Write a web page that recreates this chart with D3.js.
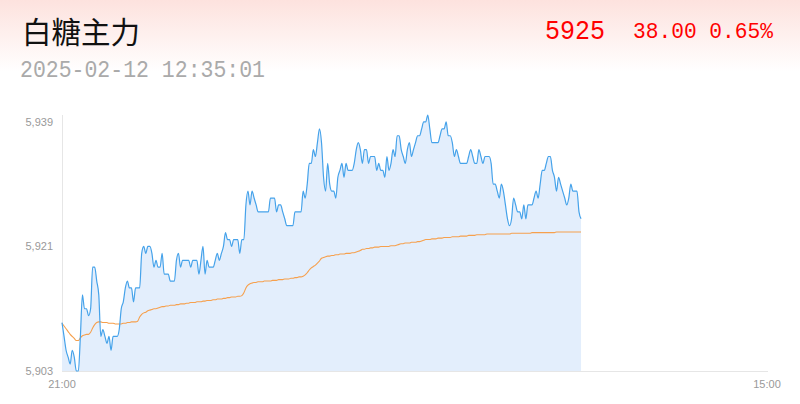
<!DOCTYPE html>
<html><head><meta charset="utf-8">
<script src="https://cdn.jsdelivr.net/npm/d3@7"></script>
<style>html,body{margin:0;padding:0;background:#fff;}svg{display:block;}</style>
</head><body>
<svg id="chart" width="800" height="404"></svg>
<script>
const title = "白糖主力";
const lastPrice = "5925";
const changeText = "38.00 0.65%";
const timeText = "2025-02-12 12:35:01";
const totalMinutes = 345;
const xTickLabels = ["21:00", "15:00"];
const yTicks = [5903, 5921, 5939];

const priceValues = [
5910,5908,5906,5905,5904,5906,5905,5903,5903,5908,
5914,5912,5912,5911,5912,5918,5918,5916,5914,5908,
5909,5908,5907,5908,5906,5908,5908,5908,5909,5912,
5913,5915,5916,5915,5915,5913,5915,5915,5915,5920,
5921,5920,5921,5921,5920,5918,5919,5918,5918,5920,
5917,5917,5917,5916,5916,5916,5919,5920,5918,5919,
5919,5919,5919,5918,5919,5919,5919,5917,5919,5921,
5917,5919,5918,5918,5918,5919,5920,5919,5920,5921,
5923,5922,5922,5921,5922,5922,5922,5920,5922,5922,
5927,5929,5927,5929,5928,5927,5926,5926,5926,5926,
5926,5926,5928,5928,5928,5926,5927,5927,5926,5925,
5924,5924,5924,5924,5926,5926,5926,5926,5929,5928,
5930,5933,5933,5935,5934,5936,5938,5936,5931,5929,
5933,5930,5929,5929,5928,5931,5932,5933,5931,5933,
5932,5932,5932,5933,5935,5936,5935,5933,5935,5935,
5933,5934,5934,5934,5932,5933,5932,5932,5931,5934,
5932,5933,5935,5934,5937,5937,5935,5934,5933,5935,
5936,5934,5935,5936,5937,5937,5938,5939,5939,5940,
5938,5936,5936,5936,5936,5937,5938,5938,5939,5937,
5937,5936,5934,5935,5934,5933,5933,5933,5933,5934,
5935,5934,5933,5933,5935,5934,5933,5934,5934,5934,
5933,5930,5930,5929,5928,5930,5929,5927,5925,5924,
5925,5928,5927,5926,5926,5925,5927,5925,5927,5927,
5927,5928,5929,5928,5930,5932,5932,5933,5934,5934,
5932,5931,5929,5931,5930,5929,5928,5927,5928,5930,
5929,5929,5929,5926,5925
];

const avgValues = [
5909.9,5909.5,5909.1,5908.7,5908.3,5908.0,5907.7,5907.4,5907.4,5907.8,
5908.1,5908.2,5908.3,5908.3,5908.6,5909.2,5909.7,5910.0,5910.1,5910.1,
5910.0,5910.0,5910.0,5909.9,5909.9,5909.9,5909.8,5909.8,5909.8,5909.8,
5909.9,5909.9,5910.0,5910.0,5910.1,5910.1,5910.1,5910.2,5910.8,5911.2,
5911.4,5911.5,5911.7,5911.8,5911.9,5912.0,5912.0,5912.1,5912.2,5912.3,
5912.3,5912.4,5912.4,5912.5,5912.5,5912.5,5912.6,5912.6,5912.7,5912.7,
5912.7,5912.8,5912.8,5912.9,5912.9,5912.9,5913.0,5913.0,5913.0,5913.1,
5913.1,5913.2,5913.2,5913.2,5913.3,5913.3,5913.4,5913.4,5913.4,5913.5,
5913.5,5913.6,5913.6,5913.7,5913.7,5913.7,5913.8,5913.8,5913.9,5914.3,
5915.0,5915.4,5915.6,5915.7,5915.8,5915.8,5915.9,5915.9,5915.9,5916.0,
5916.0,5916.0,5916.0,5916.1,5916.1,5916.1,5916.2,5916.2,5916.2,5916.3,
5916.3,5916.3,5916.4,5916.4,5916.5,5916.5,5916.6,5916.6,5916.7,5916.9,
5917.2,5917.6,5917.9,5918.1,5918.3,5918.6,5918.9,5919.3,5919.4,5919.5,
5919.6,5919.6,5919.7,5919.7,5919.8,5919.8,5919.9,5919.9,5919.9,5920.0,
5920.0,5920.0,5920.1,5920.1,5920.2,5920.3,5920.4,5920.6,5920.6,5920.7,
5920.7,5920.8,5920.8,5920.9,5920.9,5920.9,5921.0,5921.0,5921.0,5921.0,
5921.0,5921.1,5921.1,5921.1,5921.2,5921.3,5921.4,5921.4,5921.5,5921.5,
5921.5,5921.6,5921.6,5921.6,5921.7,5921.7,5921.8,5921.9,5922.0,5922.0,
5922.0,5922.1,5922.1,5922.1,5922.2,5922.2,5922.2,5922.3,5922.3,5922.3,
5922.3,5922.4,5922.4,5922.4,5922.4,5922.5,5922.5,5922.5,5922.5,5922.6,
5922.6,5922.6,5922.6,5922.7,5922.7,5922.7,5922.7,5922.7,5922.8,5922.8,
5922.8,5922.8,5922.8,5922.8,5922.8,5922.8,5922.8,5922.8,5922.8,5922.8,
5922.9,5922.9,5922.9,5922.9,5922.9,5922.9,5922.9,5922.9,5922.9,5922.9,
5923.0,5923.0,5923.0,5923.0,5923.0,5923.0,5923.0,5923.0,5923.0,5923.0,
5923.0,5923.0,5923.1,5923.1,5923.1,5923.1,5923.1,5923.1,5923.1,5923.1,
5923.1,5923.1,5923.1,5923.1,5923.1
];

const svg = d3.select("#chart");
const W = 800, H = 404;
const plot = {left: 62, right: 767, top: 115, bottom: 371};

// header gradient
const defs = svg.append("defs");
const grad = defs.append("linearGradient").attr("id","hdr").attr("x1",0).attr("y1",0).attr("x2",0).attr("y2",1);
grad.append("stop").attr("offset","0%").attr("stop-color","#fde2de");
grad.append("stop").attr("offset","100%").attr("stop-color","#ffffff");
svg.append("rect").attr("x",0).attr("y",0).attr("width",W).attr("height",72).attr("fill","url(#hdr)");

const mono = "'Liberation Mono', 'DejaVu Sans Mono', monospace";
svg.append("text").attr("x",22).attr("y",43).attr("font-family","'Noto Sans CJK SC', sans-serif")
  .attr("font-size",29.5).attr("fill","#111").text(title);
svg.append("text").attr("x",545).attr("y",39).attr("font-family",mono).attr("font-size",27)
  .attr("fill","#ff0000").attr("textLength",60).attr("lengthAdjust","spacingAndGlyphs").text(lastPrice);
svg.append("text").attr("x",633).attr("y",38).attr("font-family",mono).attr("font-size",22)
  .attr("fill","#ff0000").attr("textLength",140).attr("lengthAdjust","spacingAndGlyphs").text(changeText);
svg.append("text").attr("x",20).attr("y",77).attr("font-family",mono).attr("font-size",23)
  .attr("fill","#aaaaaa").attr("textLength",245).attr("lengthAdjust","spacingAndGlyphs").text(timeText);

const x = d3.scaleLinear().domain([0, totalMinutes]).range([plot.left, plot.right]);
const y = d3.scaleLinear().domain(d3.extent(priceValues)).range([plot.bottom, plot.top]);

// axes lines
svg.append("line").attr("x1",plot.left+0.5).attr("x2",plot.left+0.5).attr("y1",plot.top).attr("y2",plot.bottom)
  .attr("stroke","#e6e6e6").attr("stroke-width",1);
svg.append("line").attr("x1",plot.left).attr("x2",plot.right+1).attr("y1",plot.bottom+0.5).attr("y2",plot.bottom+0.5)
  .attr("stroke","#e6e6e6").attr("stroke-width",1);

// area + lines
const area = d3.area().x((d,i)=>x(i)).y0(plot.bottom).y1(d=>y(d)).curve(d3.curveMonotoneX);
svg.append("path").datum(priceValues).attr("d",area).attr("fill","#e3eefc");
const line = d3.line().x((d,i)=>x(i)).y(d=>y(d)).curve(d3.curveMonotoneX);
svg.append("path").datum(avgValues).attr("d",line).attr("fill","none").attr("stroke","#f6a04d").attr("stroke-width",1.1);
svg.append("path").datum(priceValues).attr("d",line).attr("fill","none").attr("stroke","#45a2ea").attr("stroke-width",1.2);

// y tick labels
const fmt = d3.format(",");
svg.selectAll(".ytick").data(yTicks).enter().append("text")
  .attr("x",53).attr("y",d=>y(d)).attr("dy","0.35em").attr("text-anchor","end")
  .attr("font-family","'Liberation Sans', Arial, sans-serif").attr("font-size",11).attr("fill","#999")
  .text(d=>fmt(d));
// x tick labels
svg.selectAll(".xtick").data(xTickLabels).enter().append("text")
  .attr("x",(d,i)=>x(i===0?0:totalMinutes)).attr("y",388).attr("text-anchor","middle")
  .attr("font-family","'Liberation Sans', Arial, sans-serif").attr("font-size",11).attr("fill","#999")
  .text(d=>d);
</script>
</body></html>
